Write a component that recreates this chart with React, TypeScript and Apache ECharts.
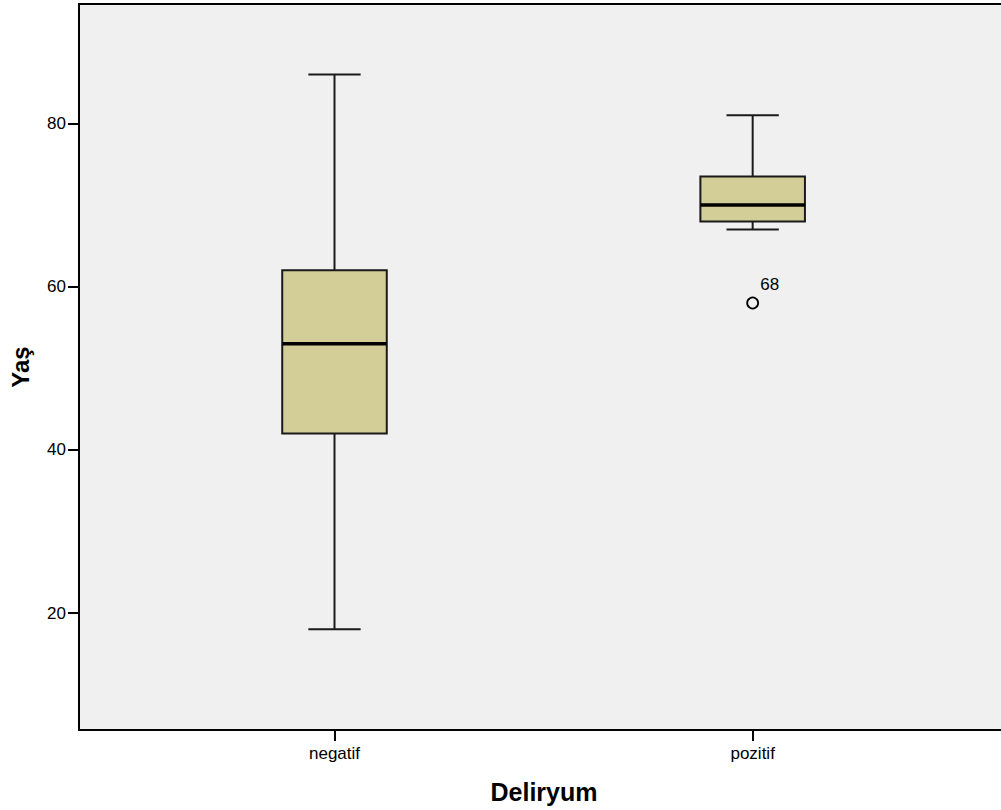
import React, { useEffect, useRef } from "react";
import * as echarts from "echarts";

const categories = ["negatif", "pozitif"];
const minimum = [18, 67];
const q1 = [42, 68];
const median = [53, 70];
const q3 = [62, 73.5];
const maximum = [86, 81];
const outlierCategory = [1];
const outlierValue = [58];
const outlierLabel = ["68"];
const yTicks = [20, 40, 60, 80];

const FONT = "'Liberation Sans', Arial, sans-serif";

export default function App() {
  const ref = useRef<HTMLDivElement>(null);
  useEffect(() => {
    if (!ref.current) return;
    const chart = echarts.init(ref.current, undefined, { renderer: "svg" });
    const boxData = categories.map((_, i) => [i, minimum[i], q1[i], median[i], q3[i], maximum[i]]);
    const outData = outlierCategory.map((c, i) => ({
      value: [c, outlierValue[i]],
      label: { formatter: outlierLabel[i] },
    }));
    chart.setOption({
      animation: false,
      backgroundColor: "#ffffff",
      grid: {
        left: 77,
        top: 4,
        right: 11,
        bottom: 80,
        show: true,
        backgroundColor: "#f0f0f0",
        borderColor: "#000000",
        borderWidth: 2,
      },
      xAxis: {
        type: "value",
        min: -0.611,
        max: 1.613,
        name: "Deliryum",
        nameLocation: "middle",
        nameGap: 49,
        nameTextStyle: { fontFamily: FONT, fontSize: 25, fontWeight: "bold", color: "#000" },
        splitLine: { show: false },
        axisLine: { show: false, onZero: false },
        axisTick: { show: true, length: 11, lineStyle: { color: "#000", width: 2 }, customValues: [0, 1] },
        axisLabel: {
          customValues: [0, 1],
          formatter: (v: number) => categories[Math.round(v)] ?? "",
          fontFamily: FONT,
          fontSize: 17,
          color: "#000",
          margin: 15,
        },
      },
      yAxis: {
        type: "value",
        min: 5.66,
        max: 94.65,
        name: "Yaş",
        nameLocation: "middle",
        nameGap: 47,
        nameRotate: 90,
        nameTextStyle: { fontFamily: FONT, fontSize: 24, fontWeight: "bold", color: "#000" },
        splitLine: { show: false },
        axisLine: { show: false, onZero: false },
        axisTick: { show: true, length: 11, lineStyle: { color: "#000", width: 2 }, customValues: yTicks },
        axisLabel: {
          customValues: yTicks,
          fontFamily: FONT,
          fontSize: 17,
          color: "#000",
          margin: 13,
        },
      },
      series: [
        {
          type: "custom",
          data: boxData,
          encode: { x: 0, y: [1, 2, 3, 4, 5] },
          renderItem: (params: any, api: any) => {
            const x = api.value(0);
            const pMin = api.coord([x, api.value(1)]);
            const pQ1 = api.coord([x, api.value(2)]);
            const pMed = api.coord([x, api.value(3)]);
            const pQ3 = api.coord([x, api.value(4)]);
            const pMax = api.coord([x, api.value(5)]);
            const boxW = api.size([0.25, 0])[0];
            const capW = api.size([0.125, 0])[0];
            const cx = pMed[0];
            const line = { stroke: "#1a1a1a", lineWidth: 2 };
            return {
              type: "group",
              children: [
                { type: "line", shape: { x1: cx, y1: pMax[1], x2: cx, y2: pQ3[1] }, style: line },
                { type: "line", shape: { x1: cx, y1: pQ1[1], x2: cx, y2: pMin[1] }, style: line },
                { type: "line", shape: { x1: cx - capW / 2, y1: pMax[1], x2: cx + capW / 2, y2: pMax[1] }, style: line },
                { type: "line", shape: { x1: cx - capW / 2, y1: pMin[1], x2: cx + capW / 2, y2: pMin[1] }, style: line },
                {
                  type: "rect",
                  shape: { x: cx - boxW / 2, y: pQ3[1], width: boxW, height: pQ1[1] - pQ3[1] },
                  style: { fill: "#d3ce97", stroke: "#1a1a1a", lineWidth: 2 },
                },
                { type: "line", shape: { x1: cx - boxW / 2, y1: pMed[1], x2: cx + boxW / 2, y2: pMed[1] }, style: { stroke: "#000", lineWidth: 3.5 } },
              ],
            };
          },
        },
        {
          type: "scatter",
          data: outData,
          symbol: "circle",
          symbolSize: 11,
          itemStyle: { color: "#f0f0f0", borderColor: "#000", borderWidth: 1.8, opacity: 1 },
          label: {
            show: true,
            position: [14, -21],
            align: "left",
            verticalAlign: "top",
            fontFamily: FONT,
            fontSize: 17,
            color: "#000",
          },
        },
      ],
    });
    return () => chart.dispose();
  }, []);
  return (
    <div style={{ position: "fixed", left: 0, top: 0, width: 1001, height: 810, overflow: "hidden", background: "#fff" }}>
      <div ref={ref} style={{ width: 1020, height: 810 }} />
    </div>
  );
}
